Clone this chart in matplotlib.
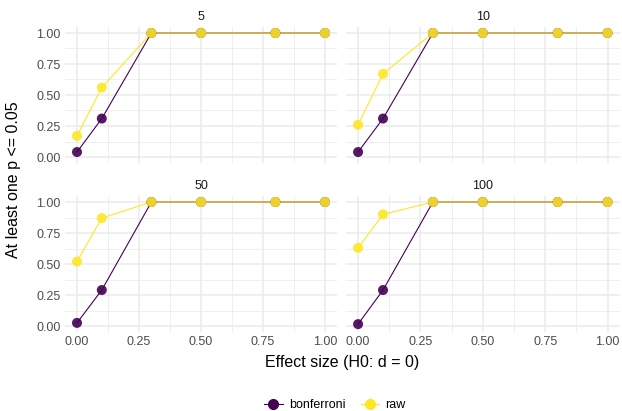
import matplotlib.pyplot as plt
import numpy as np

plt.rcParams["font.family"] = ["Liberation Sans", "DejaVu Sans"]

effect_sizes = [0.0, 0.1, 0.3, 0.5, 0.8, 1.0]
panels = ["5", "10", "50", "100"]

bonferroni = {
    "5": [0.04, 0.31, 1.0, 1.0, 1.0, 1.0],
    "10": [0.04, 0.31, 1.0, 1.0, 1.0, 1.0],
    "50": [0.025, 0.29, 1.0, 1.0, 1.0, 1.0],
    "100": [0.015, 0.29, 1.0, 1.0, 1.0, 1.0],
}
raw = {
    "5": [0.17, 0.56, 1.0, 1.0, 1.0, 1.0],
    "10": [0.26, 0.67, 1.0, 1.0, 1.0, 1.0],
    "50": [0.52, 0.87, 1.0, 1.0, 1.0, 1.0],
    "100": [0.63, 0.90, 1.0, 1.0, 1.0, 1.0],
}

PURPLE = "#440154"
YELLOW = "#FDE725"
GRID = "#EBEBEB"
TICK = "#4D4D4D"

W, H = 622, 411
fig = plt.figure(figsize=(W / 100, H / 100), dpi=100)


def px_axes(x0, y0, x1, y1):
    return fig.add_axes([x0 / W, 1 - y1 / H, (x1 - x0) / W, (y1 - y0) / H])


boxes = [(64.6, 26.8, 337.4, 163.2), (345.6, 26.8, 620, 163.2),
         (64.6, 195.8, 337.4, 332.2), (345.6, 195.8, 620, 332.2)]

ticks = [0, 0.25, 0.5, 0.75, 1.0]
tick_labels = ["0.00", "0.25", "0.50", "0.75", "1.00"]

for i, (name, box) in enumerate(zip(panels, boxes)):
    ax = px_axes(*box)
    ax.set_xlim(-0.05, 1.05)
    ax.set_ylim(-0.05, 1.05)
    for s in ax.spines.values():
        s.set_visible(False)
    ax.set_xticks(ticks)
    ax.set_yticks(ticks)
    ax.set_xticks(np.arange(0.125, 1.0, 0.25), minor=True)
    ax.set_yticks(np.arange(0.125, 1.0, 0.25), minor=True)
    ax.grid(True, which="major", color=GRID, lw=1.1)
    ax.grid(True, which="minor", color=GRID, lw=0.55)
    ax.tick_params(which="both", length=0, labelsize=9, labelcolor=TICK, pad=3)
    ax.set_xticklabels(tick_labels if i >= 2 else [])
    ax.set_yticklabels(tick_labels if i % 2 == 0 else [])
    ax.set_axisbelow(True)
    ax.set_title(name, fontsize=9, color="#1A1A1A", pad=5)

    ax.plot(effect_sizes, bonferroni[name], color=PURPLE, lw=0.8, zorder=2)
    ax.plot(effect_sizes, raw[name], color=YELLOW, lw=0.8, zorder=2)
    ax.scatter(effect_sizes, bonferroni[name], s=52, color=PURPLE, alpha=0.9,
               edgecolors="none", zorder=3, label="bonferroni")
    ax.scatter(effect_sizes, raw[name], s=52, color=YELLOW, alpha=0.9,
               edgecolors="none", zorder=3, label="raw")

fig.text(342 / W, 1 - 362 / H, "Effect size (H0: d = 0)", ha="center", va="center", fontsize=11.5)
fig.text(14 / W, 1 - 180 / H, "At least one p <= 0.05", ha="center", va="center",
         rotation=90, fontsize=11.5)

handles = [
    plt.Line2D([], [], color=PURPLE, marker="o", markersize=7, lw=0.8),
    plt.Line2D([], [], color=YELLOW, marker="o", markersize=7, lw=0.8),
]
fig.legend(handles, ["bonferroni", "raw"], loc="center", bbox_to_anchor=(335 / W, 1 - 405 / H),
           ncol=2, frameon=False, fontsize=9, handlelength=1.5, columnspacing=1.2,
           handletextpad=0.5)

fig.savefig("out.png", dpi=100)
